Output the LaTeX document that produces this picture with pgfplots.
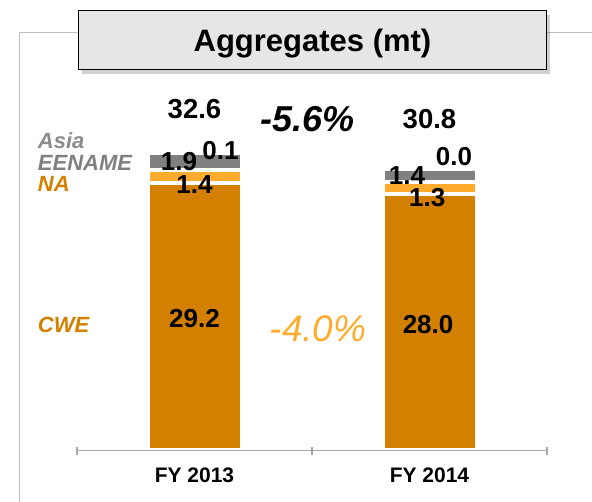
\documentclass[border=0pt]{standalone}
\usepackage{fontspec}
\setmainfont{Liberation Sans}
\usepackage{pgfplots}
\pgfplotsset{compat=1.18}
\usetikzlibrary{shadows}
\definecolor{cwe}{HTML}{D38000}
\definecolor{na}{HTML}{FFAB2E}
\definecolor{ee}{HTML}{808080}
\definecolor{asia}{HTML}{A6A6A6}
\definecolor{lbl}{HTML}{8C8C8C}
\definecolor{framec}{HTML}{BFBFBF}
\definecolor{axl}{HTML}{A6A6A6}
\definecolor{titlefill}{HTML}{E6E6E6}
\newcommand{\fs}[1]{\fontsize{#1}{#1}\selectfont}
\begin{document}
\begin{tikzpicture}[x=1pt,y=1pt]
\useasboundingbox (0,0) rectangle (592,501);
\draw[framec, line width=1.3pt] (19.6,-2) -- (19.6,468.7) -- (594,468.7);
\begin{axis}[
  at={(77pt,50.5pt)}, anchor=south west,
  scale only axis, width=470pt, height=418pt,
  xmin=-0.5, xmax=1.5, ymin=0, ymax=45.6,
  ybar stacked, bar width=94.5pt,
  axis x line*=bottom, axis y line=none,
  x axis line style={axl, line width=1.2pt, -},
  xtick={0,1}, xticklabels={FY 2013,FY 2014},
  major tick length=0pt,
  xticklabel style={font=\bfseries\fs{21}, anchor=center, yshift=-24.5pt},
  extra x ticks={-0.5,0.5,1.5}, extra x tick labels={},
  extra x tick style={major tick length=8pt, tick align=center, tick style={axl, line width=1.2pt}},
  axis on top=true, clip=false,
]
\addplot[fill=cwe, draw=white, line width=4.5pt] coordinates {(0,29.2) (1,28.0)};
\addplot[fill=na, draw=white, line width=4.5pt] coordinates {(0,1.4) (1,1.3)};
\addplot[fill=ee, draw=white, line width=4.5pt] coordinates {(0,1.9) (1,1.4)};
\addplot[fill=asia, draw=white, line width=4.5pt] coordinates {(0,0.1) (1,0.0)};
\coordinate (t1) at (axis cs:0,37.24);
\coordinate (t2) at (axis cs:1,36.15);
\coordinate (p1) at (axis cs:0.479,36.15);
\coordinate (a1) at (axis cs:0.1106,32.77);
\coordinate (e1) at (axis cs:-0.066,31.5);
\coordinate (n1) at (axis cs:0,29.0);
\coordinate (a2) at (axis cs:1.104,32.11);
\coordinate (e2) at (axis cs:0.904,30.0);
\coordinate (n2) at (axis cs:0.99,27.6);
\coordinate (c1) at (axis cs:0,14.34);
\coordinate (c2) at (axis cs:0.994,13.69);
\coordinate (p2) at (axis cs:0.526,13.25);
\coordinate (lA) at (axis cs:-0.667,33.75);
\coordinate (lE) at (axis cs:-0.667,31.35);
\coordinate (lN) at (axis cs:-0.667,29.06);
\coordinate (lC) at (axis cs:-0.667,13.69);
\end{axis}
\begin{scope}[every node/.style={inner sep=0pt}]
% totals
\node[font=\bfseries\fs{27.5}] at (t1) {32.6};
\node[font=\bfseries\fs{27.5}] at (t2) {30.8};
\node[font=\bfseries\itshape\fs{36}] at (p1) {-5.6\%};
% segment values
\node[font=\bfseries\fs{26}] at (a1) {0.1};
\node[font=\bfseries\fs{26}] at (e1) {1.9};
\node[font=\bfseries\fs{26}] at (n1) {1.4};
\node[font=\bfseries\fs{26}] at (a2) {0.0};
\node[font=\bfseries\fs{26}] at (e2) {1.4};
\node[font=\bfseries\fs{26}] at (n2) {1.3};
\node[font=\bfseries\fs{26}] at (c1) {29.2};
\node[font=\bfseries\fs{26}] at (c2) {28.0};
\node[font=\itshape\fs{37}, text=na] at (p2) {-4.0\%};
% series labels
\node[anchor=west, font=\bfseries\itshape\fs{22}, text=lbl] at (lA) {Asia};
\node[anchor=west, font=\bfseries\itshape\fs{22}, text=ee] at (lE) {EENAME};
\node[anchor=west, font=\bfseries\itshape\fs{22}, text=cwe] at (lN) {NA};
\node[anchor=west, font=\bfseries\itshape\fs{22}, text=cwe] at (lC) {CWE};
\end{scope}
% title
\node[draw=black, line width=0.9pt, fill=titlefill, inner sep=0pt,
  minimum width=468.7pt, minimum height=58.6pt,
  drop shadow={shadow xshift=3.5pt, shadow yshift=-4.5pt, opacity=0.18, fill=black}]
  at (312.35,461) {};
\node[anchor=base, font=\bfseries\fs{31}] at (312.5,449.3) {Aggregates (mt)};
\end{tikzpicture}
\end{document}
